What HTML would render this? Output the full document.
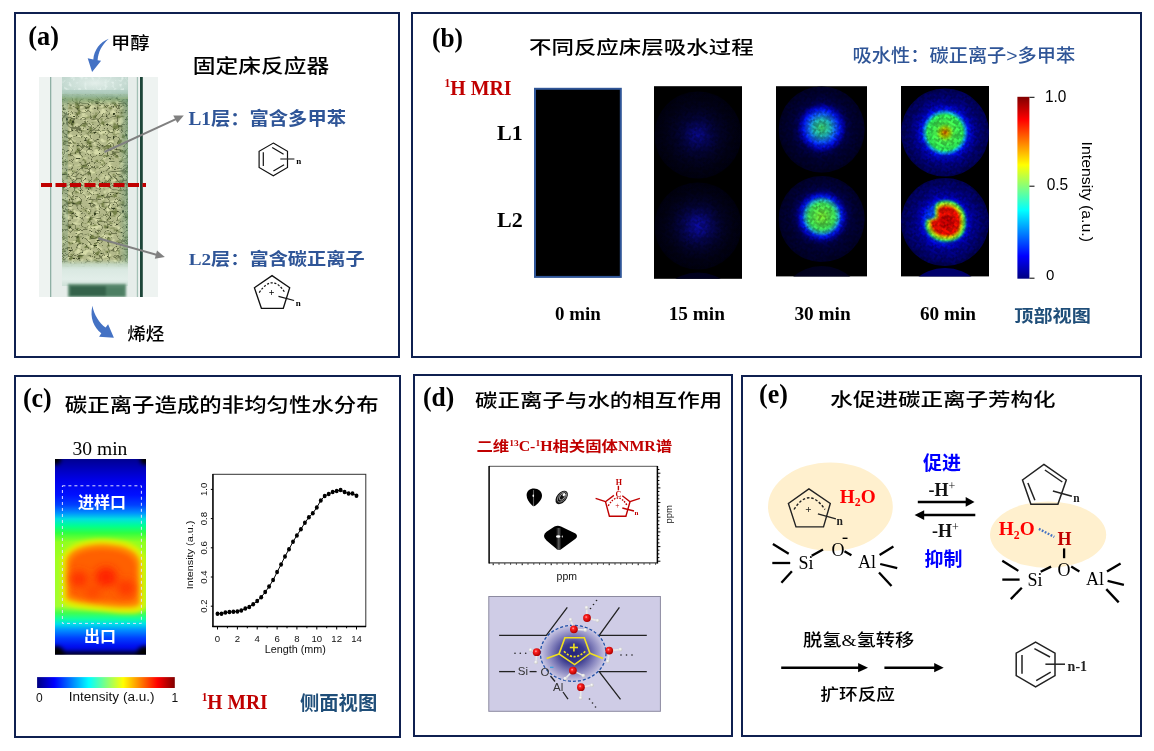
<!DOCTYPE html>
<html><head><meta charset="utf-8">
<style>
html,body{margin:0;padding:0;background:#fff;width:1154px;height:751px;overflow:hidden}
svg{display:block;will-change:transform}
.tnr{font-family:"Liberation Serif","Noto Serif CJK SC",serif}
.cn{font-family:"Liberation Sans","Noto Sans CJK SC",sans-serif}
.m{font-weight:500}
.dblue{fill:#1f4e79}
.ar{font-family:"Liberation Sans",sans-serif}
.b{font-weight:bold}
.blue{fill:#2f5597}
.red{fill:#c00000}
</style></head>
<body>
<svg width="1154" height="751" viewBox="0 0 1154 751">
<defs>
<linearGradient id="jetV" x1="0" y1="0" x2="0" y2="1">
<stop offset="0" stop-color="#800000"/><stop offset="0.125" stop-color="#ff0000"/><stop offset="0.375" stop-color="#ffff00"/><stop offset="0.625" stop-color="#00ffff"/><stop offset="0.875" stop-color="#0000ff"/><stop offset="1" stop-color="#000080"/>
</linearGradient>
<linearGradient id="jetH" x1="0" y1="0" x2="1" y2="0">
<stop offset="0" stop-color="#000080"/><stop offset="0.125" stop-color="#0000ff"/><stop offset="0.375" stop-color="#00ffff"/><stop offset="0.625" stop-color="#ffff00"/><stop offset="0.875" stop-color="#ff0000"/><stop offset="1" stop-color="#800000"/>
</linearGradient>
<radialGradient id="m15a"><stop offset="0" stop-color="#08088e"/><stop offset="0.15" stop-color="#06066e"/><stop offset="0.35" stop-color="#030342"/><stop offset="0.55" stop-color="#020226"/><stop offset="0.8" stop-color="#010116"/><stop offset="1" stop-color="#000010"/></radialGradient>
<radialGradient id="m15b"><stop offset="0" stop-color="#0a0aa4"/><stop offset="0.18" stop-color="#080880"/><stop offset="0.38" stop-color="#04044a"/><stop offset="0.58" stop-color="#020228"/><stop offset="0.8" stop-color="#010116"/><stop offset="1" stop-color="#000010"/></radialGradient>
<radialGradient id="m15c"><stop offset="0" stop-color="#020238"/><stop offset="1" stop-color="#01011c"/></radialGradient>
<radialGradient id="m30a" cy="0.48"><stop offset="0" stop-color="#40e070"/><stop offset="0.2" stop-color="#20b8c0"/><stop offset="0.32" stop-color="#1060ff"/><stop offset="0.42" stop-color="#0018ff"/><stop offset="0.5" stop-color="#0000b0"/><stop offset="0.58" stop-color="#000058"/><stop offset="0.72" stop-color="#000038"/><stop offset="1" stop-color="#000026"/></radialGradient>
<radialGradient id="m30b" cy="0.47"><stop offset="0" stop-color="#80f030"/><stop offset="0.3" stop-color="#40f060"/><stop offset="0.39" stop-color="#20b0d0"/><stop offset="0.46" stop-color="#0020ff"/><stop offset="0.54" stop-color="#0000b0"/><stop offset="0.62" stop-color="#000058"/><stop offset="0.75" stop-color="#00003a"/><stop offset="1" stop-color="#00002a"/></radialGradient>
<radialGradient id="m60a"><stop offset="0" stop-color="#e06000"/><stop offset="0.1" stop-color="#b0d000"/><stop offset="0.2" stop-color="#50ff50"/><stop offset="0.4" stop-color="#30ff60"/><stop offset="0.46" stop-color="#10b0f0"/><stop offset="0.53" stop-color="#0010ff"/><stop offset="0.63" stop-color="#0000b0"/><stop offset="0.8" stop-color="#00007a"/><stop offset="1" stop-color="#00005a"/></radialGradient>
<radialGradient id="m60bg"><stop offset="0" stop-color="#10a0ff"/><stop offset="0.45" stop-color="#0030ff"/><stop offset="0.55" stop-color="#0000d8"/><stop offset="0.65" stop-color="#00009c"/><stop offset="0.82" stop-color="#00007a"/><stop offset="1" stop-color="#00005a"/></radialGradient>
<radialGradient id="m60red"><stop offset="0" stop-color="#b00000"/><stop offset="0.45" stop-color="#ff0000"/><stop offset="0.72" stop-color="#ff2000"/><stop offset="0.86" stop-color="#ffa000"/><stop offset="1" stop-color="#c0ff20"/></radialGradient>
<radialGradient id="m60c"><stop offset="0" stop-color="#00008a"/><stop offset="1" stop-color="#000068"/></radialGradient>
<path id="blob" d="M946,200.5 C955,200.5 962,206 964.5,213 C967,222 966,232 960,237 C955,241 950,241.8 945,241.5 C937,241.3 930,237 927,231 C924.8,226 925,220.5 927.5,219.5 C930.5,218.5 934.5,219 935,215.5 C935.5,211 933.5,206.5 936.5,203.5 C939,201.2 942,200.5 946,200.5 Z"/>
<linearGradient id="heatV" x1="0" y1="0" x2="0" y2="1"><stop offset="0.000" stop-color="#000090"/><stop offset="0.056" stop-color="#0000c0"/><stop offset="0.107" stop-color="#0000e8"/><stop offset="0.184" stop-color="#0010ff"/><stop offset="0.235" stop-color="#0040ff"/><stop offset="0.276" stop-color="#0090ff"/><stop offset="0.307" stop-color="#00e0e0"/><stop offset="0.343" stop-color="#00ff90"/><stop offset="0.379" stop-color="#30ff40"/><stop offset="0.425" stop-color="#90ff20"/><stop offset="0.517" stop-color="#a0ff20"/><stop offset="0.752" stop-color="#a0ff30"/><stop offset="0.788" stop-color="#40ff50"/><stop offset="0.818" stop-color="#10ffa0"/><stop offset="0.844" stop-color="#00e0e8"/><stop offset="0.875" stop-color="#0090ff"/><stop offset="0.916" stop-color="#0040ff"/><stop offset="0.957" stop-color="#0010f0"/><stop offset="1.000" stop-color="#0000c0"/></linearGradient>
<clipPath id="tubeclip"><rect x="55" y="459" width="91" height="195.5"/></clipPath>
<filter id="blur3" x="-20%" y="-20%" width="140%" height="140%"><feGaussianBlur stdDeviation="2.2"/></filter>
<radialGradient id="oball" cx="0.4" cy="0.38" r="0.6"><stop offset="0" stop-color="#ffb0b0"/><stop offset="0.3" stop-color="#ff2020"/><stop offset="1" stop-color="#b00000"/></radialGradient>
<radialGradient id="hball" cx="0.4" cy="0.38" r="0.6"><stop offset="0" stop-color="#ffffff"/><stop offset="1" stop-color="#c8c8c8"/></radialGradient>
<radialGradient id="sph" cx="0.5" cy="0.5" r="0.5"><stop offset="0" stop-color="#23237a"/><stop offset="0.35" stop-color="#3a3a8e"/><stop offset="0.7" stop-color="#8a88c0"/><stop offset="1" stop-color="#cbc8e4"/></radialGradient>
<filter id="pblur" x="-5%" y="-5%" width="110%" height="110%"><feGaussianBlur stdDeviation="0.45"/></filter>
<linearGradient id="frostTop" x1="0" y1="0" x2="0" y2="1"><stop offset="0" stop-color="#c6dad2"/><stop offset="0.5" stop-color="#c2d8ce"/><stop offset="0.85" stop-color="#a9c7b8"/><stop offset="1" stop-color="#93b69e"/></linearGradient>
<linearGradient id="frostBot" x1="0" y1="0" x2="0" y2="1"><stop offset="0" stop-color="#b9cfb0" stop-opacity="0"/><stop offset="0.2" stop-color="#c5dac8" stop-opacity="0.9"/><stop offset="0.4" stop-color="#dae9e2"/><stop offset="0.75" stop-color="#e2eee9"/><stop offset="1" stop-color="#cde0d7"/></linearGradient>
<linearGradient id="ptop" x1="0" y1="0" x2="0" y2="1"><stop offset="0" stop-color="#9cc0a8" stop-opacity="0"/><stop offset="0.35" stop-color="#8ab292" stop-opacity="0.85"/><stop offset="0.6" stop-color="#74a070" stop-opacity="0.6"/><stop offset="1" stop-color="#86a878" stop-opacity="0"/></linearGradient>
<linearGradient id="frostFade" x1="0" y1="0" x2="0" y2="1"><stop offset="0" stop-color="#b4cfc3"/><stop offset="1" stop-color="#a2c2b0" stop-opacity="0"/></linearGradient>
<radialGradient id="frostR" cx="0.5" cy="0.25" r="0.6"><stop offset="0" stop-color="#eef6f3" stop-opacity="0.75"/><stop offset="0.6" stop-color="#e0eeea" stop-opacity="0.3"/><stop offset="1" stop-color="#a8c8bc" stop-opacity="0.3"/></radialGradient>
<linearGradient id="pside" x1="0" y1="0" x2="1" y2="0"><stop offset="0" stop-color="#5f9078" stop-opacity="0"/><stop offset="1" stop-color="#5f9078" stop-opacity="0.55"/></linearGradient>
<filter id="frostN" x="0" y="0" width="100%" height="100%" color-interpolation-filters="sRGB"><feTurbulence type="fractalNoise" baseFrequency="0.25" numOctaves="2" seed="21" result="t"/><feColorMatrix in="t" type="matrix" values="0 0 0 0 0.9  0 0 0 0 0.95  0 0 0 0 0.93  0 3 0 0 -1.6"/></filter>
<linearGradient id="streak" x1="0" y1="0" x2="1" y2="0"><stop offset="0" stop-color="#555" stop-opacity="0"/><stop offset="0.5" stop-color="#6a6a6a" stop-opacity="0.9"/><stop offset="1" stop-color="#555" stop-opacity="0"/></linearGradient>
<filter id="blur1" x="-10%" y="-30%" width="120%" height="160%"><feGaussianBlur stdDeviation="1"/></filter>
<filter id="blur4" x="-50%" y="-50%" width="200%" height="200%"><feGaussianBlur stdDeviation="4"/></filter>
<pattern id="npat" x="0" y="0" width="24" height="24" patternUnits="userSpaceOnUse" patternTransform="rotate(30)"><g fill="#000"><rect x="0" y="0" width="2" height="2" fill-opacity="0.19"/><rect x="2" y="0" width="2" height="2" fill-opacity="0.22"/><rect x="4" y="0" width="2" height="2" fill-opacity="0.24"/><rect x="6" y="0" width="2" height="2" fill-opacity="0.28"/><rect x="8" y="0" width="2" height="2" fill-opacity="0.22"/><rect x="10" y="0" width="2" height="2" fill-opacity="0.28"/><rect x="14" y="0" width="2" height="2" fill-opacity="0.14"/><rect x="16" y="0" width="2" height="2" fill-opacity="0.28"/><rect x="18" y="0" width="2" height="2" fill-opacity="0.19"/><rect x="20" y="0" width="2" height="2" fill-opacity="0.27"/><rect x="0" y="2" width="2" height="2" fill-opacity="0.14"/><rect x="2" y="2" width="2" height="2" fill-opacity="0.07"/><rect x="4" y="2" width="2" height="2" fill-opacity="0.16"/><rect x="6" y="2" width="2" height="2" fill-opacity="0.17"/><rect x="10" y="2" width="2" height="2" fill-opacity="0.07"/><rect x="12" y="2" width="2" height="2" fill-opacity="0.08"/><rect x="14" y="2" width="2" height="2" fill-opacity="0.27"/><rect x="16" y="2" width="2" height="2" fill-opacity="0.23"/><rect x="20" y="2" width="2" height="2" fill-opacity="0.24"/><rect x="0" y="4" width="2" height="2" fill-opacity="0.19"/><rect x="6" y="4" width="2" height="2" fill-opacity="0.26"/><rect x="8" y="4" width="2" height="2" fill-opacity="0.06"/><rect x="10" y="4" width="2" height="2" fill-opacity="0.06"/><rect x="12" y="4" width="2" height="2" fill-opacity="0.29"/><rect x="14" y="4" width="2" height="2" fill-opacity="0.26"/><rect x="16" y="4" width="2" height="2" fill-opacity="0.09"/><rect x="18" y="4" width="2" height="2" fill-opacity="0.29"/><rect x="20" y="4" width="2" height="2" fill-opacity="0.16"/><rect x="22" y="4" width="2" height="2" fill-opacity="0.2"/><rect x="0" y="6" width="2" height="2" fill-opacity="0.06"/><rect x="2" y="6" width="2" height="2" fill-opacity="0.28"/><rect x="4" y="6" width="2" height="2" fill-opacity="0.21"/><rect x="6" y="6" width="2" height="2" fill-opacity="0.29"/><rect x="8" y="6" width="2" height="2" fill-opacity="0.27"/><rect x="10" y="6" width="2" height="2" fill-opacity="0.09"/><rect x="12" y="6" width="2" height="2" fill-opacity="0.11"/><rect x="20" y="6" width="2" height="2" fill-opacity="0.09"/><rect x="22" y="6" width="2" height="2" fill-opacity="0.18"/><rect x="2" y="8" width="2" height="2" fill-opacity="0.2"/><rect x="4" y="8" width="2" height="2" fill-opacity="0.1"/><rect x="6" y="8" width="2" height="2" fill-opacity="0.09"/><rect x="8" y="8" width="2" height="2" fill-opacity="0.25"/><rect x="10" y="8" width="2" height="2" fill-opacity="0.14"/><rect x="12" y="8" width="2" height="2" fill-opacity="0.09"/><rect x="14" y="8" width="2" height="2" fill-opacity="0.14"/><rect x="16" y="8" width="2" height="2" fill-opacity="0.21"/><rect x="20" y="8" width="2" height="2" fill-opacity="0.29"/><rect x="0" y="10" width="2" height="2" fill-opacity="0.22"/><rect x="2" y="10" width="2" height="2" fill-opacity="0.25"/><rect x="6" y="10" width="2" height="2" fill-opacity="0.24"/><rect x="8" y="10" width="2" height="2" fill-opacity="0.11"/><rect x="10" y="10" width="2" height="2" fill-opacity="0.17"/><rect x="18" y="10" width="2" height="2" fill-opacity="0.29"/><rect x="20" y="10" width="2" height="2" fill-opacity="0.06"/><rect x="22" y="10" width="2" height="2" fill-opacity="0.23"/><rect x="0" y="12" width="2" height="2" fill-opacity="0.28"/><rect x="2" y="12" width="2" height="2" fill-opacity="0.28"/><rect x="4" y="12" width="2" height="2" fill-opacity="0.1"/><rect x="6" y="12" width="2" height="2" fill-opacity="0.11"/><rect x="8" y="12" width="2" height="2" fill-opacity="0.16"/><rect x="10" y="12" width="2" height="2" fill-opacity="0.23"/><rect x="14" y="12" width="2" height="2" fill-opacity="0.22"/><rect x="16" y="12" width="2" height="2" fill-opacity="0.24"/><rect x="18" y="12" width="2" height="2" fill-opacity="0.26"/><rect x="22" y="12" width="2" height="2" fill-opacity="0.28"/><rect x="2" y="14" width="2" height="2" fill-opacity="0.1"/><rect x="4" y="14" width="2" height="2" fill-opacity="0.18"/><rect x="6" y="14" width="2" height="2" fill-opacity="0.28"/><rect x="8" y="14" width="2" height="2" fill-opacity="0.1"/><rect x="10" y="14" width="2" height="2" fill-opacity="0.28"/><rect x="12" y="14" width="2" height="2" fill-opacity="0.16"/><rect x="14" y="14" width="2" height="2" fill-opacity="0.09"/><rect x="16" y="14" width="2" height="2" fill-opacity="0.1"/><rect x="0" y="16" width="2" height="2" fill-opacity="0.21"/><rect x="2" y="16" width="2" height="2" fill-opacity="0.3"/><rect x="8" y="16" width="2" height="2" fill-opacity="0.3"/><rect x="10" y="16" width="2" height="2" fill-opacity="0.16"/><rect x="12" y="16" width="2" height="2" fill-opacity="0.12"/><rect x="14" y="16" width="2" height="2" fill-opacity="0.07"/><rect x="16" y="16" width="2" height="2" fill-opacity="0.18"/><rect x="18" y="16" width="2" height="2" fill-opacity="0.25"/><rect x="20" y="16" width="2" height="2" fill-opacity="0.14"/><rect x="22" y="16" width="2" height="2" fill-opacity="0.13"/><rect x="2" y="18" width="2" height="2" fill-opacity="0.27"/><rect x="6" y="18" width="2" height="2" fill-opacity="0.15"/><rect x="8" y="18" width="2" height="2" fill-opacity="0.25"/><rect x="12" y="18" width="2" height="2" fill-opacity="0.22"/><rect x="14" y="18" width="2" height="2" fill-opacity="0.28"/><rect x="16" y="18" width="2" height="2" fill-opacity="0.19"/><rect x="18" y="18" width="2" height="2" fill-opacity="0.24"/><rect x="22" y="18" width="2" height="2" fill-opacity="0.13"/><rect x="2" y="20" width="2" height="2" fill-opacity="0.25"/><rect x="4" y="20" width="2" height="2" fill-opacity="0.09"/><rect x="6" y="20" width="2" height="2" fill-opacity="0.14"/><rect x="8" y="20" width="2" height="2" fill-opacity="0.3"/><rect x="10" y="20" width="2" height="2" fill-opacity="0.26"/><rect x="12" y="20" width="2" height="2" fill-opacity="0.29"/><rect x="14" y="20" width="2" height="2" fill-opacity="0.14"/><rect x="16" y="20" width="2" height="2" fill-opacity="0.15"/><rect x="18" y="20" width="2" height="2" fill-opacity="0.22"/><rect x="20" y="20" width="2" height="2" fill-opacity="0.14"/><rect x="22" y="20" width="2" height="2" fill-opacity="0.09"/><rect x="0" y="22" width="2" height="2" fill-opacity="0.12"/><rect x="4" y="22" width="2" height="2" fill-opacity="0.11"/><rect x="6" y="22" width="2" height="2" fill-opacity="0.3"/><rect x="8" y="22" width="2" height="2" fill-opacity="0.29"/><rect x="10" y="22" width="2" height="2" fill-opacity="0.19"/><rect x="12" y="22" width="2" height="2" fill-opacity="0.15"/><rect x="14" y="22" width="2" height="2" fill-opacity="0.1"/><rect x="18" y="22" width="2" height="2" fill-opacity="0.08"/><rect x="20" y="22" width="2" height="2" fill-opacity="0.23"/><rect x="22" y="22" width="2" height="2" fill-opacity="0.26"/></g></pattern>
<clipPath id="photoclip"><rect x="39" y="77" width="119" height="220"/></clipPath>
<clipPath id="clip2"><rect x="654" y="86" width="88" height="192.8"/></clipPath>
<clipPath id="clip3"><rect x="776" y="86" width="91" height="190.4"/></clipPath>
<clipPath id="clip4"><rect x="901" y="86" width="88" height="190.4"/></clipPath>
<filter id="mottle" x="0" y="0" width="100%" height="100%" color-interpolation-filters="sRGB"><feTurbulence type="fractalNoise" baseFrequency="0.5" numOctaves="1" seed="2" result="n"/><feColorMatrix in="n" type="matrix" values="1 0 0 0 0.5  1 0 0 0 0.5  1 0 0 0 0.5  0 0 0 0 1" result="g"/><feComposite in="SourceGraphic" in2="g" operator="arithmetic" k1="1" k2="0" k3="0" k4="0"/></filter>
<filter id="soft" x="-20%" y="-20%" width="140%" height="140%"><feGaussianBlur stdDeviation="0.8"/></filter>
<filter id="grain" x="0" y="0" width="100%" height="100%" color-interpolation-filters="sRGB">
<feTurbulence type="fractalNoise" baseFrequency="0.16 0.2" numOctaves="2" seed="5" result="t"/>
<feColorMatrix in="t" type="matrix" values="0 0 0 0 0.84  0 0 0 0 0.86  0 0 0 0 0.66  0 4.5 0 0 -2.25" result="light"/>
<feColorMatrix in="t" type="matrix" values="0 0 0 0 0.45  0 0 0 0 0.5  0 0 0 0 0.28  -5 0 0 0 2.35" result="mid"/>
<feTurbulence type="turbulence" baseFrequency="0.11 0.16" numOctaves="1" seed="9" result="t2"/>
<feColorMatrix in="t2" type="matrix" values="0 0 0 0 0.22  0 0 0 0 0.26  0 0 0 0 0.12  -8 0 0 0 0.55" result="dark"/>
<feTurbulence type="fractalNoise" baseFrequency="0.32 0.38" numOctaves="1" seed="19" result="t3"/>
<feColorMatrix in="t3" type="matrix" values="0 0 0 0 0.2  0 0 0 0 0.24  0 0 0 0 0.12  -14 0 0 0 4.6" result="dots"/>
<feMerge result="m"><feMergeNode in="mid"/><feMergeNode in="light"/><feMergeNode in="dark"/><feMergeNode in="dots"/></feMerge>
<feGaussianBlur in="m" stdDeviation="0.5"/>
</filter>
</defs>
<!-- panel frames -->
<g fill="none" stroke="#0f2050" stroke-width="2">
<rect x="15" y="13" width="384" height="344"/>
<rect x="412" y="13" width="729" height="344"/>
<rect x="15" y="376" width="385" height="361"/>
<rect x="414" y="375" width="318" height="361"/>
<rect x="742" y="376" width="399" height="360"/>
</g>

<!-- ===== panel a ===== -->
<g id="pa">
<!-- photo -->
<g filter="url(#pblur)" clip-path="url(#photoclip)">
<rect x="39" y="77" width="119" height="220" fill="#eef3f1"/>
<rect x="51" y="77" width="86" height="220" fill="#e6edea"/>
<rect x="50" y="77" width="1.3" height="220" fill="#8fb0a5"/>
<rect x="136.8" y="77" width="1.3" height="220" fill="#a3c0b6"/>
<rect x="140" y="77" width="2.8" height="220" fill="#1d4538"/>
<rect x="62" y="77" width="66" height="24" fill="url(#frostTop)"/>
<rect x="62" y="77" width="66" height="24" fill="url(#frostR)"/>
<rect x="62" y="77" width="66" height="24" filter="url(#frostN)"/>
<rect x="62" y="94" width="66" height="173" fill="#b3b98a"/>
<rect x="62" y="94" width="66" height="173" filter="url(#grain)"/>
<rect x="62" y="90" width="66" height="16" fill="url(#ptop)"/>
<rect x="62" y="90" width="66" height="9" fill="url(#frostFade)"/>
<rect x="118" y="99" width="10" height="168" fill="url(#pside)"/>
<rect x="62" y="99" width="6" height="168" fill="#6f9c86" opacity="0.25"/>
<rect x="62" y="259" width="66" height="27" fill="url(#frostBot)"/>
<g filter="url(#blur1)"><rect x="68" y="284" width="58" height="13" fill="#5b8a70"/>
<rect x="70" y="286" width="36" height="10" fill="#2c5a42" opacity="0.8"/>
<rect x="106" y="287" width="18" height="9" fill="#477a5e" opacity="0.7"/></g>
</g>
<!-- red dashed line -->
<line x1="41" y1="185" x2="146" y2="185" stroke="#c00000" stroke-width="4" stroke-dasharray="11 3.5"/>
<!-- grey arrows -->
<g stroke="#808080" stroke-width="2" fill="#808080">
<line x1="104.5" y1="152" x2="177" y2="118.6"/>
<polygon stroke="none" points="183.8,115.4 173.2,115.6 177.4,123.0"/>
<line x1="98.2" y1="238.3" x2="158" y2="255.2"/>
<polygon stroke="none" points="164.9,257.1 157.0,250.6 154.8,258.8"/>
</g>
<!-- blue curved arrows -->
<path fill="#4472c4" d="M108.8,38.7 C100,42 94,50 93.3,59.5 L87.7,58.3 L92.1,72 L101.1,60.8 L97.6,60.2 C98.2,52 102,44.5 108.8,38.7 Z"/>
<path fill="#4472c4" d="M92.4,305.7 C89.5,318 94,327.5 101.3,333.3 L99.1,336.8 L113.9,337.7 L108.1,324.3 L105.6,327.6 C99,322.5 94.2,315 92.4,305.7 Z"/>
<!-- benzene -->
<g fill="none" stroke="#111" stroke-width="1.2">
<polygon points="273.3,143.1 287.5,151.3 287.5,167.4 273.3,175.7 259.1,167.4 259.1,151.3"/>
<line x1="263.3" y1="152.2" x2="263.3" y2="165.9"/>
<line x1="272.2" y1="147.6" x2="283.6" y2="154.2"/>
<line x1="273.4" y1="171.1" x2="284.1" y2="164.8"/>
<line x1="280.3" y1="159" x2="294.4" y2="159" stroke="#333"/>
<polygon points="272.05,275.6 289.7,287.8 283.3,308.3 261.4,308.3 254.4,287.8" stroke-width="1.3"/>
<path d="M259.2,292.6 Q272.4,273 284.9,292.6" stroke-dasharray="2.2 1.6"/>
<line x1="278.5" y1="296.3" x2="294.1" y2="300.5"/>
</g>
<text class="tnr b" x="296.3" y="163.8" font-size="9">n</text>
<text class="tnr b" x="295.8" y="305.8" font-size="9">n</text>
<text class="tnr b" x="268.8" y="295.6" font-size="10">+</text>
<text class="tnr b" x="29" y="47" font-size="24" transform="matrix(1.0962 0 0 1.1405 -3.48 -8.60)">(a)</text>
<text class="cn m" x="113" y="49" font-size="19" transform="matrix(1.0167 0 0 0.9105 -3.92 4.76)">甲醇</text>
<text class="cn m" x="194" y="74" font-size="22.5" transform="matrix(1.0098 0 0 0.8696 -3.03 8.84)">固定床反应器</text>
<text class="cn blue" x="188" y="124" font-size="19" transform="matrix(1.0161 0 0 0.9421 -2.63 7.79)"><tspan class="tnr b">L1</tspan><tspan class="b">层：富含多甲苯</tspan></text>
<text class="cn blue" x="188" y="265" font-size="19" transform="matrix(1.0109 0 0 0.8684 -1.35 35.03)"><tspan class="tnr b">L2</tspan><tspan class="b">层：富含碳正离子</tspan></text>
<text class="cn m" x="127" y="340" font-size="19" transform="matrix(0.9789 0 0 0.9053 2.87 32.40)">烯烃</text>
</g>

<!-- ===== panel b ===== -->
<g id="pb">
<!-- MRI images -->
<rect x="535" y="88.8" width="85.8" height="188.1" fill="#000" stroke="#2f5597" stroke-width="2"/>
<g>
<rect x="654" y="86.2" width="88" height="192.6" fill="#000"/>
<g><circle cx="698" cy="135" r="43.5" fill="url(#m15a)"/>
<circle cx="698" cy="226" r="43.5" fill="url(#m15b)"/>
<circle cx="698" cy="316" r="43.5" fill="url(#m15c)" clip-path="url(#clip2)"/></g>
</g>
<g>
<rect x="776" y="86.2" width="91" height="190.2" fill="#000"/>
<g><circle cx="821.7" cy="129.5" r="43" fill="url(#m30a)"/>
<circle cx="821.7" cy="219" r="43" fill="url(#m30b)"/>
<circle cx="821.7" cy="309" r="43" fill="url(#m15c)" clip-path="url(#clip3)"/></g>
</g>
<g>
<rect x="901" y="86" width="88" height="190.4" fill="#000"/>
<g><circle cx="945" cy="132.5" r="44" fill="url(#m60a)"/>
<circle cx="945" cy="222" r="44" fill="url(#m60bg)"/>
<g filter="url(#soft)"><use href="#blob" fill="#30ff50"/>
<use href="#blob" fill="#d0f000" transform="translate(945.5 221.5) scale(0.88) translate(-945.5 -221.5)"/>
<use href="#blob" fill="#ff1000" transform="translate(946 221) scale(0.76) translate(-946 -221)"/>
<ellipse cx="947" cy="222" rx="8" ry="7" fill="#c00000" opacity="0.7"/></g>
<circle cx="945" cy="312" r="44" fill="url(#m60c)" clip-path="url(#clip4)"/></g>
</g>
<g fill="url(#npat)"><circle cx="698" cy="135" r="43.5"/><circle cx="698" cy="226" r="43.5"/><circle cx="821.7" cy="129.5" r="43"/><circle cx="821.7" cy="219" r="43"/><circle cx="945" cy="132.5" r="44"/><circle cx="945" cy="222" r="44"/></g>
<!-- colorbar -->
<rect x="1017.4" y="96.8" width="12" height="181.9" fill="url(#jetV)"/>
<g stroke="#000" stroke-width="1">
<line x1="1029.4" y1="97.3" x2="1034.5" y2="97.3"/>
<line x1="1029.4" y1="186.2" x2="1034.5" y2="186.2"/>
<line x1="1029.4" y1="278.2" x2="1034.5" y2="278.2"/>
</g>
<text class="ar" x="1046" y="101.8" font-size="15" transform="matrix(1.0300 0 0 1.1200 -32.41 -12.44)">1.0</text>
<text class="ar" x="1046" y="191.5" font-size="15" transform="matrix(1.0333 0 0 1.1100 -34.17 -22.52)">0.5</text>
<text class="ar" x="1046" y="280" font-size="15">0</text>
<text class="ar" transform="matrix(1.0857 0 0 1.1330 -92.10 -18.88) translate(1081,141.6) rotate(90)" font-size="14">Intensity (a.u.)</text>
<text class="tnr b" x="432" y="50" font-size="24" transform="matrix(1.0571 0 0 1.1095 -24.64 -8.22)">(b)</text>
<text class="cn m" x="530" y="55" font-size="22.5" transform="matrix(0.9991 0 0 0.8304 -0.53 8.83)">不同反应床层吸水过程</text>
<text class="cn blue m" x="853" y="62" font-size="18.5" transform="matrix(1.0399 0 0 0.9722 -34.48 1.68)">吸水性：碳正离子&gt;多甲苯</text>
<text class="tnr b red" x="445" y="95" font-size="19" transform="matrix(1.0476 0 0 1.1357 -21.74 -12.59)"><tspan font-size="11" dy="-7">1</tspan><tspan dy="7">H MRI</tspan></text>
<text class="tnr b" x="497" y="140" font-size="22">L1</text>
<text class="tnr b" x="497" y="227" font-size="22">L2</text>
<text class="tnr b" x="555" y="319" font-size="18" transform="matrix(1.0512 0 0 1.0512 -28.40 -15.29)">0 min</text>
<text class="tnr b" x="670" y="319" font-size="18" transform="matrix(1.0706 0 0 1.0706 -48.56 -21.36)">15 min</text>
<text class="tnr b" x="794" y="319" font-size="18" transform="matrix(1.0731 0 0 1.0731 -57.62 -22.14)">30 min</text>
<text class="tnr b" x="920" y="319" font-size="18" transform="matrix(1.0673 0 0 1.0673 -61.92 -20.33)">60 min</text>
<text class="cn dblue b" x="1014" y="321" font-size="19" transform="matrix(1.0093 0 0 0.8789 -9.16 39.40)">顶部视图</text>
</g>

<!-- ===== panel c ===== -->
<g id="pc">
<!-- heatmap -->
<g>
<rect x="55" y="459" width="91" height="195.5" fill="#000"/>
<g clip-path="url(#tubeclip)">
<rect x="55" y="459" width="91" height="195.5" fill="url(#heatV)"/>
<g filter="url(#blur3)">
<path d="M61,562 C61,549 75,540 100,539 C126,539 144,545 145,561 L145,606 C145,615 130,615 100,611 C75,608 61,607 61,599 Z" fill="#e0f000"/>
<path d="M65.5,563 C65.5,552 78,544.5 100,543.5 C123,543.5 139.5,549.5 140.5,563 L140.5,602 C140.5,609 128,609.5 100,606 C78,603 65.5,602.5 65.5,596 Z" fill="#ff8800"/>
<path d="M70,566 C70,556 81,549.5 100,549 C120,549 135,554 136,566 L136,597 C136,603 126,603.5 100,601 C81,599 70,598 70,593 Z" fill="#ff6000"/>
</g>
<g filter="url(#blur4)">
<ellipse cx="79" cy="579" rx="9" ry="8" fill="#ff3000"/>
<ellipse cx="106" cy="577" rx="11" ry="10" fill="#ff2400"/>
<ellipse cx="126" cy="588" rx="9" ry="8" fill="#ff3800"/>
<ellipse cx="93" cy="592" rx="8" ry="6" fill="#ff4400"/>
</g>
<g filter="url(#blur3)" fill="#000">
<circle cx="55" cy="459" r="6"/><circle cx="146" cy="459" r="6"/><circle cx="56" cy="655" r="9"/><circle cx="145" cy="655" r="9"/>
<rect x="55" y="652" width="91" height="4"/>
</g>
</g>
<rect x="62.4" y="485.8" width="79" height="137.6" fill="none" stroke="#e0e0ff" stroke-width="1" stroke-dasharray="3 3"/>
<text class="cn b" x="78" y="507.8" font-size="16" fill="#fff">进样口</text>
<text class="cn b" x="84" y="641.5" font-size="16" fill="#fff">出口</text>
</g>
<!-- h colorbar -->
<rect x="37.1" y="677.1" width="137.7" height="10.9" fill="url(#jetH)"/>
<text class="ar" x="36" y="701.5" font-size="12" fill="#111">0</text>
<text class="ar" x="70" y="702" font-size="12" fill="#111" transform="matrix(1.1280 0 0 1.0000 -10.19 -0.70)">Intensity (a.u.)</text>
<text class="ar" x="171.5" y="701.5" font-size="12" fill="#111">1</text>
<!-- plot -->
<g>
<rect x="213" y="474.3" width="152.8" height="152.2" fill="none" stroke="#333" stroke-width="1"/>
<line x1="212.9" y1="474" x2="212.9" y2="627" stroke="#000" stroke-width="1.3"/>
<line x1="212.3" y1="626.5" x2="366" y2="626.5" stroke="#000" stroke-width="1.3"/>
<g stroke="#000" stroke-width="1"><line x1="217.5" y1="626.5" x2="217.5" y2="629.5"/><line x1="227.4" y1="626.5" x2="227.4" y2="628.3"/><line x1="237.4" y1="626.5" x2="237.4" y2="629.5"/><line x1="247.3" y1="626.5" x2="247.3" y2="628.3"/><line x1="257.2" y1="626.5" x2="257.2" y2="629.5"/><line x1="267.1" y1="626.5" x2="267.1" y2="628.3"/><line x1="277.1" y1="626.5" x2="277.1" y2="629.5"/><line x1="287.0" y1="626.5" x2="287.0" y2="628.3"/><line x1="296.9" y1="626.5" x2="296.9" y2="629.5"/><line x1="306.9" y1="626.5" x2="306.9" y2="628.3"/><line x1="316.8" y1="626.5" x2="316.8" y2="629.5"/><line x1="326.7" y1="626.5" x2="326.7" y2="628.3"/><line x1="336.7" y1="626.5" x2="336.7" y2="629.5"/><line x1="346.6" y1="626.5" x2="346.6" y2="628.3"/><line x1="356.5" y1="626.5" x2="356.5" y2="629.5"/><line x1="212.9" y1="606.2" x2="210.8" y2="606.2"/><line x1="212.9" y1="577.0" x2="210.8" y2="577.0"/><line x1="212.9" y1="547.8" x2="210.8" y2="547.8"/><line x1="212.9" y1="518.6" x2="210.8" y2="518.6"/><line x1="212.9" y1="489.4" x2="210.8" y2="489.4"/></g>
<polyline points="217.5,613.7 221.5,613.7 225.4,612.6 229.4,612.1 233.4,611.8 237.4,611.5 241.3,610.5 245.3,608.6 249.3,607.0 253.2,604.3 257.2,601.1 261.2,597.2 265.2,592.1 269.1,586.5 273.1,580.1 277.1,572.1 281.1,564.4 285.0,556.4 289.0,549.2 293.0,541.8 296.9,535.4 300.9,529.2 304.9,522.8 308.9,517.3 312.8,513.3 316.8,507.4 320.8,500.5 324.7,496.0 328.7,494.1 332.7,492.0 336.7,490.9 340.6,490.1 344.6,492.0 348.6,493.6 352.5,493.6 356.5,495.7" fill="none" stroke="#000" stroke-width="1"/>
<g fill="#000"><ellipse cx="217.5" cy="613.7" rx="1.95" ry="2.25"/>
<ellipse cx="221.5" cy="613.7" rx="1.95" ry="2.25"/>
<ellipse cx="225.4" cy="612.6" rx="1.95" ry="2.25"/>
<ellipse cx="229.4" cy="612.1" rx="1.95" ry="2.25"/>
<ellipse cx="233.4" cy="611.8" rx="1.95" ry="2.25"/>
<ellipse cx="237.4" cy="611.5" rx="1.95" ry="2.25"/>
<ellipse cx="241.3" cy="610.5" rx="1.95" ry="2.25"/>
<ellipse cx="245.3" cy="608.6" rx="1.95" ry="2.25"/>
<ellipse cx="249.3" cy="607.0" rx="1.95" ry="2.25"/>
<ellipse cx="253.2" cy="604.3" rx="1.95" ry="2.25"/>
<ellipse cx="257.2" cy="601.1" rx="1.95" ry="2.25"/>
<ellipse cx="261.2" cy="597.2" rx="1.95" ry="2.25"/>
<ellipse cx="265.2" cy="592.1" rx="1.95" ry="2.25"/>
<ellipse cx="269.1" cy="586.5" rx="1.95" ry="2.25"/>
<ellipse cx="273.1" cy="580.1" rx="1.95" ry="2.25"/>
<ellipse cx="277.1" cy="572.1" rx="1.95" ry="2.25"/>
<ellipse cx="281.1" cy="564.4" rx="1.95" ry="2.25"/>
<ellipse cx="285.0" cy="556.4" rx="1.95" ry="2.25"/>
<ellipse cx="289.0" cy="549.2" rx="1.95" ry="2.25"/>
<ellipse cx="293.0" cy="541.8" rx="1.95" ry="2.25"/>
<ellipse cx="296.9" cy="535.4" rx="1.95" ry="2.25"/>
<ellipse cx="300.9" cy="529.2" rx="1.95" ry="2.25"/>
<ellipse cx="304.9" cy="522.8" rx="1.95" ry="2.25"/>
<ellipse cx="308.9" cy="517.3" rx="1.95" ry="2.25"/>
<ellipse cx="312.8" cy="513.3" rx="1.95" ry="2.25"/>
<ellipse cx="316.8" cy="507.4" rx="1.95" ry="2.25"/>
<ellipse cx="320.8" cy="500.5" rx="1.95" ry="2.25"/>
<ellipse cx="324.7" cy="496.0" rx="1.95" ry="2.25"/>
<ellipse cx="328.7" cy="494.1" rx="1.95" ry="2.25"/>
<ellipse cx="332.7" cy="492.0" rx="1.95" ry="2.25"/>
<ellipse cx="336.7" cy="490.9" rx="1.95" ry="2.25"/>
<ellipse cx="340.6" cy="490.1" rx="1.95" ry="2.25"/>
<ellipse cx="344.6" cy="492.0" rx="1.95" ry="2.25"/>
<ellipse cx="348.6" cy="493.6" rx="1.95" ry="2.25"/>
<ellipse cx="352.5" cy="493.6" rx="1.95" ry="2.25"/>
<ellipse cx="356.5" cy="495.7" rx="1.95" ry="2.25"/></g>
<g class="ar" font-size="9.6" text-anchor="middle" fill="#111"><text x="217.5" y="642.2">0</text><text x="237.4" y="642.2">2</text><text x="257.2" y="642.2">4</text><text x="277.1" y="642.2">6</text><text x="296.9" y="642.2">8</text><text x="316.8" y="642.2">10</text><text x="336.7" y="642.2">12</text><text x="356.5" y="642.2">14</text><text transform="translate(207.2 606.2) rotate(-90)">0.2</text><text transform="translate(207.2 577.0) rotate(-90)">0.4</text><text transform="translate(207.2 547.8) rotate(-90)">0.6</text><text transform="translate(207.2 518.6) rotate(-90)">0.8</text><text transform="translate(207.2 489.4) rotate(-90)">1.0</text></g>
<text class="ar" x="294.9" y="653.6" font-size="10.2" text-anchor="middle" fill="#111" transform="matrix(1.0596 0 0 1.0596 -17.17 -39.43)">Length (mm)</text>
<text class="ar" transform="matrix(0.9100 0 0 1.0625 16.95 -34.79) translate(193.1 555.1) rotate(-90)" font-size="10.2" text-anchor="middle" fill="#111">Intensity (a.u.)</text>
</g>
<text class="tnr b" x="24" y="409" font-size="24" transform="matrix(1.0840 0 0 1.0952 -3.10 -40.63)">(c)</text>
<text class="cn m" x="65" y="412" font-size="22.5" transform="matrix(0.9971 0 0 0.8739 -0.01 51.83)">碳正离子造成的非均匀性水分布</text>
<text class="tnr" x="73" y="456" font-size="19.5" transform="matrix(1.0037 0 0 1.0037 -0.77 -2.76)">30 min</text>
<text class="tnr b red" x="203" y="708" font-size="19" transform="matrix(1.0302 0 0 1.1286 -7.45 -90.33)"><tspan font-size="11" dy="-7">1</tspan><tspan dy="7">H MRI</tspan></text>
<text class="cn dblue b" x="300" y="710" font-size="19" transform="matrix(1.0187 0 0 1.0053 -5.70 -3.75)">侧面视图</text>
</g>

<!-- ===== panel d ===== -->
<g id="pd">
<!-- title 2D NMR -->
<text class="cn b red" x="476" y="452" font-size="15.5" transform="matrix(1.0573 0 0 0.9062 -26.87 41.26)">二维<tspan class="tnr" font-size="9" dy="-5.5">13</tspan><tspan class="tnr" font-size="15" dy="5.5">C-</tspan><tspan class="tnr" font-size="9" dy="-5.5">1</tspan><tspan class="tnr" font-size="15" dy="5.5">H</tspan>相关固体<tspan class="tnr" font-size="15">NMR</tspan>谱</text>
<!-- NMR plot -->
<g>
<line x1="489" y1="466.3" x2="657.5" y2="466.3" stroke="#555" stroke-width="1"/>
<line x1="489" y1="562.9" x2="657.5" y2="562.9" stroke="#444" stroke-width="1.3"/>
<line x1="489.1" y1="466" x2="489.1" y2="563.5" stroke="#000" stroke-width="1.5"/>
<line x1="657.4" y1="466" x2="657.4" y2="563.5" stroke="#000" stroke-width="1.5"/>
<g stroke="#000" stroke-width="1">
<line x1="493.2" y1="563.4" x2="493.2" y2="565.2"/>
<line x1="499.0" y1="563.4" x2="499.0" y2="564.6"/>
<line x1="504.8" y1="563.4" x2="504.8" y2="564.6"/>
<line x1="510.6" y1="563.4" x2="510.6" y2="564.6"/>
<line x1="516.4" y1="563.4" x2="516.4" y2="564.6"/>
<line x1="522.2" y1="563.4" x2="522.2" y2="565.2"/>
<line x1="528.0" y1="563.4" x2="528.0" y2="564.6"/>
<line x1="533.8" y1="563.4" x2="533.8" y2="564.6"/>
<line x1="539.6" y1="563.4" x2="539.6" y2="564.6"/>
<line x1="545.4" y1="563.4" x2="545.4" y2="564.6"/>
<line x1="551.2" y1="563.4" x2="551.2" y2="565.2"/>
<line x1="557.0" y1="563.4" x2="557.0" y2="564.6"/>
<line x1="562.8" y1="563.4" x2="562.8" y2="564.6"/>
<line x1="568.6" y1="563.4" x2="568.6" y2="564.6"/>
<line x1="574.4" y1="563.4" x2="574.4" y2="564.6"/>
<line x1="580.2" y1="563.4" x2="580.2" y2="565.2"/>
<line x1="586.0" y1="563.4" x2="586.0" y2="564.6"/>
<line x1="591.8" y1="563.4" x2="591.8" y2="564.6"/>
<line x1="597.6" y1="563.4" x2="597.6" y2="564.6"/>
<line x1="603.4" y1="563.4" x2="603.4" y2="564.6"/>
<line x1="609.2" y1="563.4" x2="609.2" y2="565.2"/>
<line x1="615.0" y1="563.4" x2="615.0" y2="564.6"/>
<line x1="620.8" y1="563.4" x2="620.8" y2="564.6"/>
<line x1="626.6" y1="563.4" x2="626.6" y2="564.6"/>
<line x1="632.4" y1="563.4" x2="632.4" y2="564.6"/>
<line x1="638.2" y1="563.4" x2="638.2" y2="565.2"/>
<line x1="644.0" y1="563.4" x2="644.0" y2="564.6"/>
<line x1="649.8" y1="563.4" x2="649.8" y2="564.6"/>
<line x1="655.6" y1="563.4" x2="655.6" y2="564.6"/>
<line x1="658" y1="469.5" x2="659.4" y2="469.5"/>
<line x1="658" y1="473.2" x2="660.4" y2="473.2"/>
<line x1="658" y1="476.8" x2="659.4" y2="476.8"/>
<line x1="658" y1="480.5" x2="659.4" y2="480.5"/>
<line x1="658" y1="484.2" x2="659.4" y2="484.2"/>
<line x1="658" y1="487.9" x2="660.4" y2="487.9"/>
<line x1="658" y1="491.5" x2="659.4" y2="491.5"/>
<line x1="658" y1="495.2" x2="659.4" y2="495.2"/>
<line x1="658" y1="498.9" x2="659.4" y2="498.9"/>
<line x1="658" y1="502.5" x2="660.4" y2="502.5"/>
<line x1="658" y1="506.2" x2="659.4" y2="506.2"/>
<line x1="658" y1="509.9" x2="659.4" y2="509.9"/>
<line x1="658" y1="513.5" x2="659.4" y2="513.5"/>
<line x1="658" y1="517.2" x2="660.4" y2="517.2"/>
<line x1="658" y1="520.9" x2="659.4" y2="520.9"/>
<line x1="658" y1="524.6" x2="659.4" y2="524.6"/>
<line x1="658" y1="528.2" x2="659.4" y2="528.2"/>
<line x1="658" y1="531.9" x2="660.4" y2="531.9"/>
<line x1="658" y1="535.6" x2="659.4" y2="535.6"/>
<line x1="658" y1="539.2" x2="659.4" y2="539.2"/>
<line x1="658" y1="542.9" x2="659.4" y2="542.9"/>
<line x1="658" y1="546.6" x2="660.4" y2="546.6"/>
<line x1="658" y1="550.2" x2="659.4" y2="550.2"/>
<line x1="658" y1="553.9" x2="659.4" y2="553.9"/>
<line x1="658" y1="557.6" x2="659.4" y2="557.6"/>
<line x1="658" y1="561.2" x2="660.4" y2="561.2"/>
</g>
<path d="M534,488.6 C538.5,488.6 542,491.5 542,495.5 C542,499.5 538.5,503 535.5,505.5 C534.3,506.4 533,506.4 532,505.3 C529,502.5 526.6,499 526.6,495.3 C526.6,491.2 529.8,488.6 534,488.6 Z" fill="#000"/>
<rect x="532.4" y="490" width="2.2" height="16" fill="url(#streak)"/>
<ellipse cx="533.3" cy="495.8" rx="0.8" ry="1.3" fill="#fff"/>
<g transform="translate(561.7 497.4) rotate(-50)">
<ellipse cx="0" cy="0" rx="7.8" ry="4.8" fill="#111"/>
<ellipse cx="0.5" cy="0" rx="6" ry="3.4" fill="none" stroke="#aaa" stroke-width="0.7"/>
<ellipse cx="1" cy="0" rx="4" ry="2.2" fill="none" stroke="#ccc" stroke-width="0.7"/>
<ellipse cx="3.5" cy="0" rx="1.6" ry="1.2" fill="#fff"/>
</g>
<path d="M544,536 Q544,533.5 546.5,531.8 L554.5,526.6 Q557.6,524.8 561,526.4 L575.5,533.6 Q578.5,536.2 575.5,538.8 L561.5,549 Q559,550.8 556.6,549 L546.5,540.5 Q544,538.5 544,536 Z" fill="#000"/>
<rect x="556" y="528" width="5.5" height="22" fill="url(#streak)"/>
<ellipse cx="558.2" cy="536.5" rx="2.2" ry="1.2" fill="#fff"/><ellipse cx="562.3" cy="536.6" rx="0.6" ry="1.1" fill="#ddd"/>
<g stroke="#c00000" stroke-width="1.4" fill="none">
<line x1="618.4" y1="485.8" x2="618.4" y2="490.3"/>
<polyline points="613.9,495.4 605.5,501.7 609.4,516.3 625.9,516.3 630,501.7 622.3,495.7"/>
<line x1="605.5" y1="501.7" x2="595.6" y2="498.4"/>
<line x1="630" y1="501.7" x2="639.9" y2="498.4"/>
<path d="M608.2,505.9 Q617.8,490 627.4,505.9" stroke-dasharray="1.6 1.3"/>
<line x1="622.3" y1="508" x2="634" y2="511"/>
</g>
<g class="tnr b" fill="#c00000">
<text x="615.7" y="484.6" font-size="8">H</text>
<text x="615.6" y="496.9" font-size="8">C</text>
<text x="634.5" y="514.8" font-size="7">n</text>
<text x="615.3" y="508.3" font-size="7.5" font-weight="normal">+</text>
</g>
<text class="ar" x="566.8" y="580.3" font-size="10.5" text-anchor="middle" fill="#111">ppm</text>
<text class="ar" transform="matrix(0.8625 0 0 0.9000 91.21 51.20) translate(673.4 514.7) rotate(-90)" font-size="10.5" text-anchor="middle" fill="#111">ppm</text>
</g>
<!-- lavender schematic -->
<g>
<rect x="488.8" y="596.5" width="171.6" height="114.8" fill="#cfcce6" stroke="#8c8aa0" stroke-width="1"/>
<g stroke="#222" stroke-width="1.3" fill="none">
<polyline points="499.1,635.3 546.3,635.3 567.3,607.3"/>
<polyline points="646.8,635.3 599.2,635.3 619.4,607.3"/>
<line x1="499.1" y1="671.6" x2="515" y2="671.6"/>
<line x1="529.6" y1="671.6" x2="536.6" y2="671.6"/>
<polyline points="646.8,671.6 599.2,671.6 620.5,699.4"/>
<line x1="550.5" y1="676" x2="555" y2="681.5"/>
<line x1="563" y1="692" x2="568" y2="699.2"/>
</g>
<ellipse cx="573.2" cy="653.3" rx="32.8" ry="28" fill="url(#sph)" stroke="#2050a8" stroke-width="1.3" stroke-dasharray="3 2"/>
<g stroke="#f0e020" stroke-width="1.6" fill="none">
<polygon points="564.9,637.7 584.3,637.7 589.9,653.3 574.6,664.6 559,653.9"/>
<line x1="559" y1="653.9" x2="546.6" y2="658.6"/>
<line x1="589.9" y1="653.3" x2="603" y2="658.6"/>
<path d="M564,651.3 Q573.9,662 585.3,651.3" stroke-dasharray="2.2 1.5"/>
<line x1="569.8" y1="647.5" x2="578" y2="647.5"/>
<line x1="573.9" y1="643.4" x2="573.9" y2="651.6"/>
</g>
<line x1="587" y1="618" x2="586.6" y2="607.7" stroke="#e8e8e8" stroke-width="1.6"/>
<line x1="587" y1="618" x2="597.6" y2="620.6" stroke="#e8e8e8" stroke-width="1.6"/>
<circle cx="586.6" cy="607.7" r="1.9" fill="url(#hball)"/>
<circle cx="597.6" cy="620.6" r="1.9" fill="url(#hball)"/>
<circle cx="587" cy="618" r="3.9" fill="url(#oball)"/>
<line x1="573.9" y1="629.3" x2="570.6" y2="619.7" stroke="#e8e8e8" stroke-width="1.6"/>
<line x1="573.9" y1="629.3" x2="585.3" y2="630" stroke="#e8e8e8" stroke-width="1.6"/>
<circle cx="570.6" cy="619.7" r="1.9" fill="url(#hball)"/>
<circle cx="585.3" cy="630" r="1.9" fill="url(#hball)"/>
<circle cx="573.9" cy="629.3" r="3.9" fill="url(#oball)"/>
<line x1="536.7" y1="652.2" x2="530.7" y2="650" stroke="#e8e8e8" stroke-width="1.6"/>
<line x1="536.7" y1="652.2" x2="536" y2="662.3" stroke="#e8e8e8" stroke-width="1.6"/>
<circle cx="530.7" cy="650" r="1.9" fill="url(#hball)"/>
<circle cx="536" cy="662.3" r="1.9" fill="url(#hball)"/>
<circle cx="536.7" cy="652.2" r="3.9" fill="url(#oball)"/>
<line x1="609.2" y1="650.6" x2="620.5" y2="649.5" stroke="#e8e8e8" stroke-width="1.6"/>
<line x1="609.2" y1="650.6" x2="607.9" y2="661.3" stroke="#e8e8e8" stroke-width="1.6"/>
<circle cx="620.5" cy="649.5" r="1.9" fill="url(#hball)"/>
<circle cx="607.9" cy="661.3" r="1.9" fill="url(#hball)"/>
<circle cx="609.2" cy="650.6" r="3.9" fill="url(#oball)"/>
<line x1="572.9" y1="670.6" x2="583.3" y2="675.6" stroke="#e8e8e8" stroke-width="1.6"/>
<line x1="572.9" y1="670.6" x2="565.3" y2="678.6" stroke="#e8e8e8" stroke-width="1.6"/>
<circle cx="583.3" cy="675.6" r="1.9" fill="url(#hball)"/>
<circle cx="565.3" cy="678.6" r="1.9" fill="url(#hball)"/>
<circle cx="572.9" cy="670.6" r="3.9" fill="url(#oball)"/>
<line x1="580.9" y1="687.2" x2="591.9" y2="685.2" stroke="#e8e8e8" stroke-width="1.6"/>
<line x1="580.9" y1="687.2" x2="580.6" y2="697.9" stroke="#e8e8e8" stroke-width="1.6"/>
<circle cx="591.9" cy="685.2" r="1.9" fill="url(#hball)"/>
<circle cx="580.6" cy="697.9" r="1.9" fill="url(#hball)"/>
<circle cx="580.9" cy="687.2" r="3.9" fill="url(#oball)"/>
<g fill="#222">
<circle cx="515" cy="653.3" r="0.8"/><circle cx="520.3" cy="653.3" r="0.8"/><circle cx="525.7" cy="653.3" r="0.8"/>
<circle cx="621" cy="655" r="0.8"/><circle cx="626.5" cy="655" r="0.8"/><circle cx="632" cy="655" r="0.8"/>
<circle cx="590.5" cy="608.5" r="0.8"/><circle cx="593.5" cy="604.5" r="0.8"/><circle cx="596.5" cy="600.5" r="0.8"/>
<circle cx="589.5" cy="699" r="0.8"/><circle cx="592.5" cy="703" r="0.8"/><circle cx="595.5" cy="707" r="0.8"/>
</g>
<g class="ar" font-size="11.5" fill="#333">
<text x="517.8" y="675.3">Si</text>
<text x="540.6" y="675.8">O</text>
<text x="553" y="690.6">Al</text>
</g>
<line x1="550" y1="667.3" x2="553.5" y2="667.3" stroke="#30a0e0" stroke-width="1.2"/>
</g>
<text class="tnr b" x="423" y="408" font-size="24" transform="matrix(1.0643 0 0 1.1095 -27.26 -47.03)">(d)</text>
<text class="cn m" x="475" y="407" font-size="22.5" transform="matrix(0.9984 0 0 0.8304 0.88 68.92)">碳正离子与水的相互作用</text>
</g>

<!-- ===== panel e ===== -->
<g id="pe">
<!-- ellipses -->
<ellipse cx="830.4" cy="506.7" rx="62.4" ry="44.2" fill="#fff0ce"/>
<ellipse cx="1048.1" cy="534.7" rx="58.1" ry="33.2" fill="#fff0ce"/>
<!-- left molecule -->
<g fill="none" stroke="#222" stroke-width="1.4">
<polygon points="808.9,488.9 830.3,503.5 823.5,526.9 796,526.9 788.4,503.5"/>
<path d="M794,509.5 Q808.9,486 825,509.5" stroke-dasharray="2.6 1.8"/>
<line x1="817.9" y1="513.9" x2="835.9" y2="518.9"/>
</g>
<text class="tnr b" x="805.2" y="512.6" font-size="11" fill="#222">+</text>
<text class="tnr b" x="836.6" y="524.9" font-size="11.5" fill="#222">n</text>
<text class="tnr b" x="839.3" y="502.2" font-size="18" fill="#ff0000" transform="matrix(1.0697 0 0 1.0697 -57.98 -34.42)">H<tspan font-size="11" dy="3.4">2</tspan><tspan dy="-3.4">O</tspan></text>
<g stroke="#000" stroke-width="2.3" fill="none">
<line x1="772.9" y1="544" x2="788.7" y2="553.7"/>
<line x1="772.3" y1="563" x2="790.2" y2="563"/>
<line x1="781.4" y1="582.8" x2="791.9" y2="571.2"/>
<line x1="879.6" y1="554.9" x2="893.4" y2="546.4"/>
<line x1="880.2" y1="564" x2="897.2" y2="568.2"/>
<line x1="879" y1="572.5" x2="891.5" y2="586"/>
<line x1="811.7" y1="555.7" x2="823" y2="549.4"/>
<line x1="844.5" y1="551.2" x2="851.4" y2="555.2"/>
</g>
<g class="tnr" font-size="18" fill="#000">
<text x="831.6" y="556.1">O</text>
<text x="798.4" y="568.8">Si</text>
<text x="858" y="568.2">Al</text>
</g>
<line x1="842.6" y1="538.3" x2="847.5" y2="538.3" stroke="#000" stroke-width="1.4"/>
<!-- middle -->
<text class="cn b" x="923" y="470" font-size="19" fill="#0000ff">促进</text>
<text class="tnr b" x="928.6" y="495.5" font-size="18" fill="#111">-H<tspan font-weight="normal" font-size="12" dy="-6">+</tspan></text>
<line x1="917.8" y1="501.9" x2="966.5" y2="501.9" stroke="#000" stroke-width="2.5"/>
<polygon points="974.5,501.9 965.7,497.1 965.7,506.7" fill="#000"/>
<line x1="975.3" y1="515.1" x2="923" y2="515.1" stroke="#000" stroke-width="2.5"/>
<polygon points="914.6,515.1 924.2,510.3 924.2,519.9" fill="#000"/>
<text class="tnr b" x="932.1" y="537" font-size="18" fill="#111">-H<tspan font-weight="normal" font-size="12" dy="-6">+</tspan></text>
<text class="cn b" x="924.6" y="566" font-size="19" fill="#0000ff">抑制</text>
<!-- right molecule -->
<g fill="none" stroke="#222" stroke-width="1.5">
<polygon points="1043.9,464.4 1066.3,480 1057.9,504.3 1030.9,504.3 1022.5,480"/>
<line x1="1027.9" y1="483" x2="1034.9" y2="500.3"/>
<line x1="1044.9" y1="470" x2="1062.3" y2="482"/>
<line x1="1052.9" y1="491" x2="1071.9" y2="496.3"/>
</g>
<text class="tnr b" x="1073.3" y="502.3" font-size="11.5" fill="#222">n</text>
<text class="tnr b" x="998.8" y="534.9" font-size="18" fill="#ff0000" transform="matrix(1.0697 0 0 1.0697 -69.63 -36.74)">H<tspan font-size="11" dy="3.4">2</tspan><tspan dy="-3.4">O</tspan></text>
<line x1="1038.9" y1="528.9" x2="1054.3" y2="536.9" stroke="#4472c4" stroke-width="2.4" stroke-dasharray="1.8 1.5"/>
<text class="tnr b" x="1057.6" y="544.9" font-size="18" fill="#c00000">H</text>
<g stroke="#000" stroke-width="2.3" fill="none">
<line x1="1064.1" y1="548.4" x2="1064.1" y2="558.2"/>
<line x1="1002.3" y1="560.8" x2="1018.3" y2="570.9"/>
<line x1="1002.3" y1="579.6" x2="1019.6" y2="579.6"/>
<line x1="1010.8" y1="599.1" x2="1021.8" y2="587.8"/>
<line x1="1107" y1="571.6" x2="1120.6" y2="563.4"/>
<line x1="1107.6" y1="580.9" x2="1123.9" y2="584.8"/>
<line x1="1106.3" y1="589.1" x2="1118.7" y2="602.4"/>
<line x1="1040.7" y1="571.8" x2="1051.1" y2="566.6"/>
<line x1="1071.2" y1="566.6" x2="1079.4" y2="571.6"/>
</g>
<g class="tnr" font-size="18" fill="#000">
<text x="1057.5" y="576.4">O</text>
<text x="1027.4" y="585.5">Si</text>
<text x="1086" y="584.8">Al</text>
</g>
<!-- bottom -->
<line x1="781.2" y1="667.7" x2="860" y2="667.7" stroke="#000" stroke-width="2.5"/>
<polygon points="868,667.7 858.1,663.1 858.1,672.3" fill="#000"/>
<line x1="884.4" y1="667.7" x2="936" y2="667.7" stroke="#000" stroke-width="2.5"/>
<polygon points="943.7,667.7 934.2,663.1 934.2,672.3" fill="#000"/>
<g fill="none" stroke="#222" stroke-width="1.5">
<polygon points="1035.6,642.2 1055,653.2 1055,675.6 1035.6,687 1016.2,675.6 1016.2,653.2"/>
<line x1="1022" y1="655" x2="1022" y2="673.8"/>
<line x1="1034.4" y1="648.7" x2="1050" y2="657"/>
<line x1="1036.2" y1="680.6" x2="1050.7" y2="672.2"/>
<line x1="1045.4" y1="664.2" x2="1065" y2="664.2"/>
</g>
<text class="tnr b" x="1067.6" y="670.6" font-size="14" fill="#222">n-1</text>
<text class="tnr b" x="759" y="407" font-size="24" transform="matrix(1.0840 0 0 1.1333 -63.74 -58.03)">(e)</text>
<text class="cn m" x="831" y="407" font-size="22.5" transform="matrix(1.0013 0 0 0.8304 -1.71 68.52)">水促进碳正离子芳构化</text>
<text class="cn m" x="803" y="647" font-size="18" transform="matrix(1.0709 0 0 0.9167 -57.01 53.08)">脱氢<tspan class="tnr">&amp;</tspan>氢转移</text>
<text class="cn m" x="820" y="700" font-size="18" transform="matrix(1.0403 0 0 0.9111 -32.83 62.70)">扩环反应</text>
</g>
</svg>
</body></html>
